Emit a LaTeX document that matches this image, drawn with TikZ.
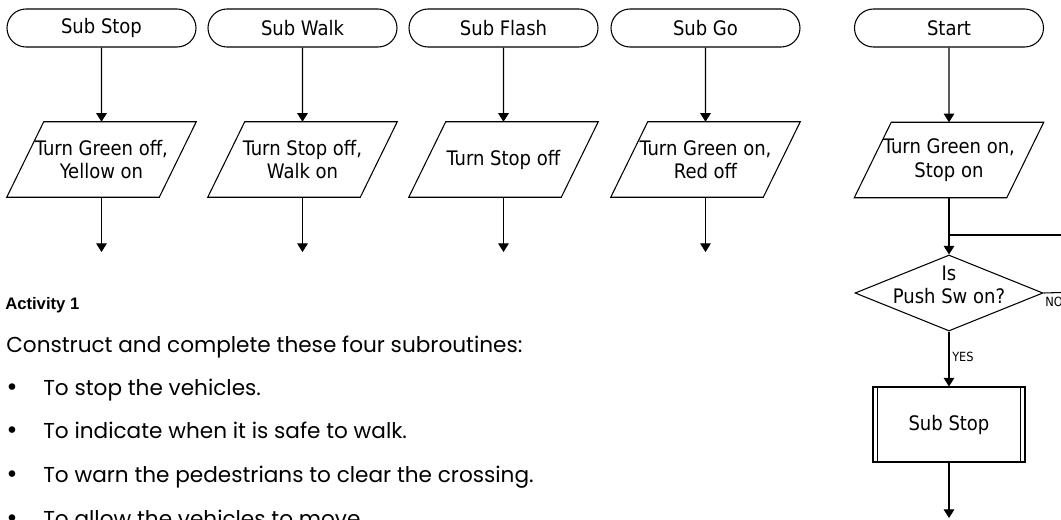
\documentclass[tikz,border=0pt]{standalone}
\usepackage{fontspec}
\newfontfamily\fcfont{DejaVu Sans Condensed}
\newfontfamily\bodyfont{Poppins}
\newfontfamily\headfont{Liberation Sans}
\newfontfamily\bulfont{DejaVu Sans}
\usetikzlibrary{shapes.geometric,shapes.misc,arrows.meta}
\newcommand\iobox[1]{\draw[ln] ([xshift=13.875pt]#1.north west) -- ([xshift=13.875pt]#1.north east) -- ([xshift=-13.875pt]#1.south east) -- ([xshift=-13.875pt]#1.south west) -- cycle;}
\begin{document}
\begin{tikzpicture}[x=0.75pt,y=-0.75pt,
  ln/.style={line width=0.8pt},
  arr/.style={line width=0.8pt,-{Triangle[width=8pt,length=6.5pt]}},
  fc/.style={font=\fcfont\fontsize{15}{17.5}\selectfont},
  term/.style={fc,rounded rectangle,draw,line width=0.8pt,minimum width=141.75pt,minimum height=28.5pt,inner sep=0pt},
  io/.style={fc,minimum width=114pt,minimum height=56.25pt,inner sep=0pt,align=center},
  proc/.style={fc,draw,line width=0.8pt,minimum width=114pt,minimum height=56.25pt,inner sep=0pt},
  dec/.style={diamond,draw,line width=0.8pt,minimum width=141pt,minimum height=57pt,inner sep=0pt},
  small/.style={font=\fcfont\fontsize{9.5}{11}\selectfont,inner sep=0pt,anchor=base west},
  body/.style={font=\bodyfont\fontsize{16.2}{18}\selectfont,inner sep=0pt,anchor=base west},
  bul/.style={font=\bulfont\fontsize{17}{18}\selectfont,inner sep=0pt,anchor=base}
]
\useasboundingbox (0,0) rectangle (1061,519);
\clip (0,0) rectangle (1061,519);

% subroutine columns
\node[term] (t1) at (101.5,28) {Sub Stop};
\node[term] (t2) at (302.5,28) {Sub Walk};
\node[term] (t3) at (503.5,28) {Sub Flash};
\node[term] (t4) at (705.5,28) {Sub Go};
\node[io] (p1) at (101.5,159.5) {Turn Green off,\\Yellow on};
\node[io] (p2) at (302.5,159.5) {Turn Stop off,\\Walk on};
\node[io] (p3) at (503.5,159.5) {Turn Stop off};
\node[io] (p4) at (705.5,159.5) {Turn Green on,\\Red off};
\iobox{p1}\iobox{p2}\iobox{p3}\iobox{p4}
\coordinate (e1) at (101.5,252);
\coordinate (e2) at (302.5,252);
\coordinate (e3) at (503.5,252);
\coordinate (e4) at (705.5,252);
\foreach \i in {1,2,3,4}{
  \draw[arr] (t\i) -- (p\i);
  \draw[arr] (p\i) -- (e\i);
}

% main program
\node[term] (ts) at (949,28) {Start};
\node[io] (p5) at (949,160) {Turn Green on,\\Stop on};
\iobox{p5}
\node[dec] (d) at (949,293) {};
\node[fc,align=center,inner sep=0pt] (dt) at (949,285) {Is\\Push Sw on?};
\node[proc] (s) at (949,424.5) {Sub Stop};
\draw[ln] ([xshift=3.75pt]s.north west) -- ([xshift=3.75pt]s.south west);
\draw[ln] ([xshift=-3.75pt]s.north east) -- ([xshift=-3.75pt]s.south east);
\coordinate (j) at (949,235);
\coordinate (jr) at (1061,235);
\coordinate (nr) at (1061,292.5);
\coordinate (e5) at (949,518);
\draw[arr] (ts) -- (p5);
\draw[arr] (p5) -- (d.north);
\draw[ln] (j) -- (jr);
\draw[ln] (d.east) -- (nr);
\draw[arr] (d.south) -- (s);
\draw[arr] (s) -- (e5);
\node[small] (no) at (1045,306) {NO};
\node[small] (yes) at (952,361) {YES};

% activity text
\node[font=\headfont\bfseries\fontsize{12.5}{14}\selectfont,inner sep=0pt,anchor=base west] (act) at (5,309) {Activity 1};
\node[body] (l0) at (6,352) {Construct and complete these four subroutines:};
\node[bul] (b1) at (12,395) {•};
\node[bul] (b2) at (12,438) {•};
\node[bul] (b3) at (12,482) {•};
\node[bul] (b4) at (12,526) {•};
\node[body] (l1) at (43,395) {To stop the vehicles.};
\node[body] (l2) at (43,438) {To indicate when it is safe to walk.};
\node[body] (l3) at (43,482) {To warn the pedestrians to clear the crossing.};
\node[body] (l4) at (43,526) {To allow the vehicles to move.};
\end{tikzpicture}
\end{document}
